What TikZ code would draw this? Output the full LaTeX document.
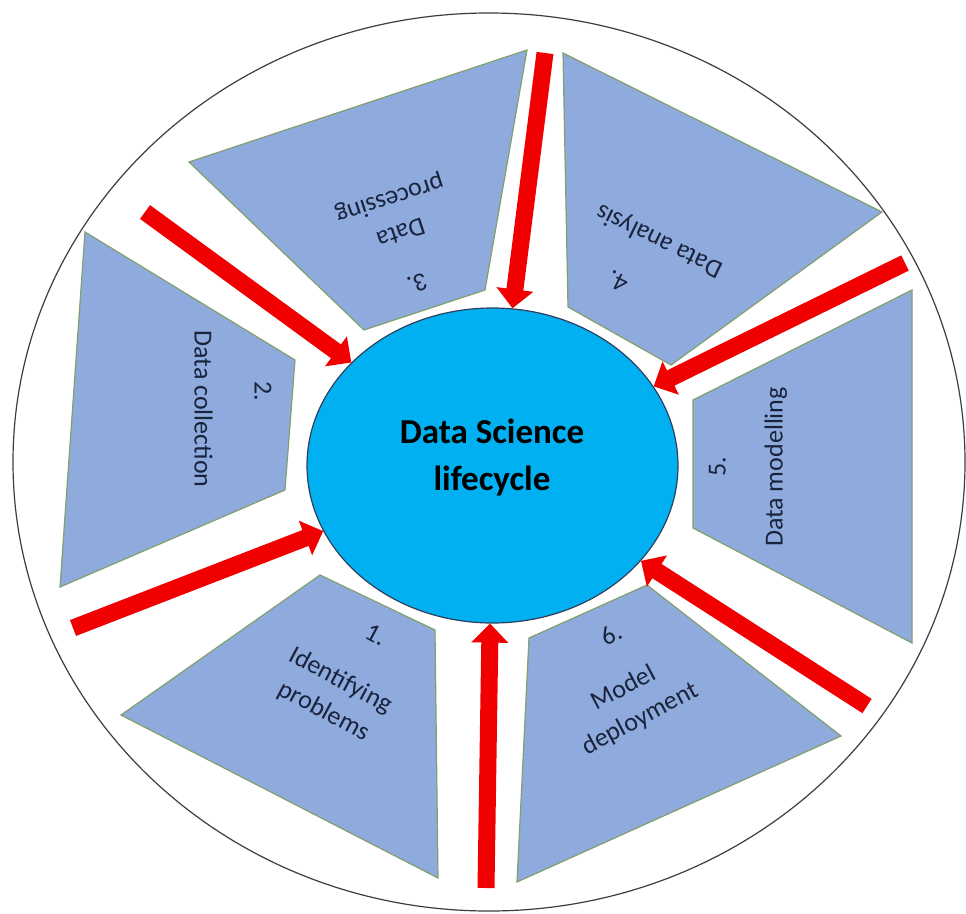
\documentclass[tikz,border=0pt]{standalone}
\usepackage{fontspec}
\setmainfont{Carlito}
\usetikzlibrary{shapes.geometric,arrows.meta}
\definecolor{panel}{RGB}{143,170,220}
\definecolor{panelline}{RGB}{130,160,110}
\definecolor{hub}{RGB}{0,176,240}
\definecolor{hubline}{RGB}{47,63,95}
\definecolor{arrowred}{RGB}{240,0,0}
\definecolor{ink}{RGB}{25,35,60}
\definecolor{rim}{RGB}{60,60,70}
\begin{document}
\begin{tikzpicture}[x=1pt,y=-1pt,
  panelshape/.style={fill=panel,draw=panelline,line width=1.2pt,line join=miter},
  flowarrow/.style={draw=arrowred,line width=17pt,-{Triangle[width=36pt,length=19pt]}},
  lab/.style={font=\fontsize{26}{35}\selectfont,text=ink,inner sep=0pt,align=center}]
\useasboundingbox (0,0) rectangle (966,913);
\fill[white] (0,0) rectangle (966,913);
% outer ring
\draw[line width=1.2pt,draw=rim] (489,462) ellipse [x radius=476pt,y radius=449pt];
% panels
\draw[panelshape] (85,232) -- (295,360) -- (285,490) -- (60,587) -- cycle;
\draw[panelshape] (527,50) -- (189,162) -- (364,330) -- (485,290) -- cycle;
\draw[panelshape] (563,53) -- (882,212) -- (671,365) -- (568,307) -- cycle;
\draw[panelshape] (693,400) -- (912,290) -- (912,643) -- (693,528) -- cycle;
\draw[panelshape] (647,585) -- (841,736) -- (517,882) -- (529,638) -- cycle;
\draw[panelshape] (320,575) -- (435,630) -- (438,878) -- (121,715) -- cycle;
% hub
\node[ellipse,fill=hub,draw=hubline,line width=1.2pt,minimum width=371pt,minimum height=315pt,inner sep=0pt] (hub) at (492.5,465.5) {};
\node[font=\bfseries\fontsize{35}{47}\selectfont,align=center,text=black,inner sep=0pt] (title) at (492,457) {Data Science\\lifecycle};
% arrows
\coordinate (t1) at (486,888);
\coordinate (t2) at (73,628);
\coordinate (t3) at (145,212);
\coordinate (t4) at (545,53);
\coordinate (t5) at (905,263);
\coordinate (t6) at (867,706);
\draw[flowarrow] (t1) -- (hub);
\draw[flowarrow] (t2) -- (hub);
\draw[flowarrow] (t3) -- (hub);
\draw[flowarrow] (t4) -- (hub);
\draw[flowarrow] (t5) -- (hub);
\draw[flowarrow] (t6) -- (hub);
% labels
\node[lab,rotate=-28] (p1) at (345,672) {\hspace*{20pt}1.\\[21pt]Identifying\\problems};
\node[lab,rotate=-90] (p2) at (233,409) {2.\hspace*{36pt}\\[25pt]Data collection};
\node[lab,rotate=198] (p3) at (403,240) {3.\\[18pt]Data\\processing};
\node[lab,rotate=154] (p4) at (648,264) {\hspace*{38pt}4.\\[19pt]Data analysis};
\node[lab,rotate=90] (p5) at (748,467) {5.\\[22pt]Data modelling};
\node[lab,rotate=28] (p6) at (620,681) {\hspace*{28pt}6.\\[17pt]Model\\deployment};
\end{tikzpicture}
\end{document}
